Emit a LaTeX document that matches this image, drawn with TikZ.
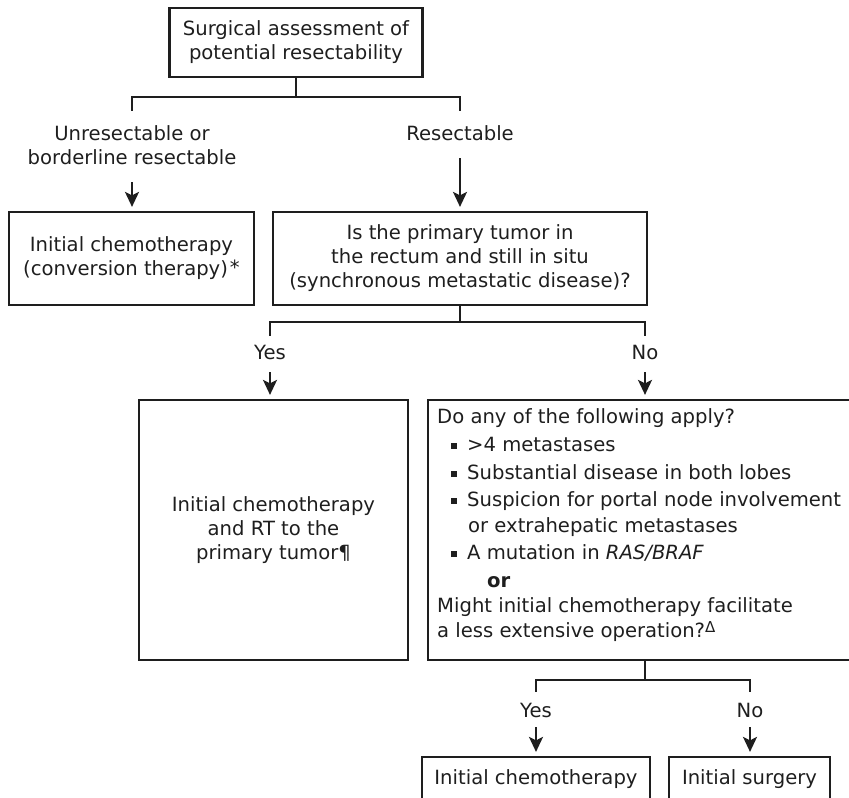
\documentclass[tikz,border=0pt]{standalone}
\usepackage{fontspec}
\setmainfont{DejaVu Sans}
\usetikzlibrary{arrows.meta}
\definecolor{ink}{HTML}{1E1E1E}
\newcommand{\sqbul}{\rule[\dimexpr0.55ex-3pt\relax]{6pt}{6pt}}
\newcommand{\supmark}[1]{\raisebox{5pt}{\fontsize{15}{15}\selectfont #1}}
\begin{document}
\begin{tikzpicture}[x=1pt,y=-1pt,
  every node/.style={font=\fontsize{19.6}{24}\selectfont, text=ink},
  box/.style={draw=ink, line width=2.2pt, inner sep=0pt, align=center},
  lbl/.style={inner sep=0pt, align=center},
  line/.style={draw=ink, line width=2.2pt},
  arr/.style={line, shorten >=4pt, -{Stealth[length=15pt,width=14pt,inset=3.5pt]}},
  ln/.style={anchor=mid west, inner sep=0pt}]
\useasboundingbox (0,0) rectangle (849,798);
\clip (0,0) rectangle (849,798);

% top
\node[box, minimum width=253pt, minimum height=69pt] (top) at (296,42.5) {Surgical assessment of\\potential resectability};
\coordinate (j1) at (296,97);
\coordinate (l1) at (132,111);
\coordinate (r1) at (460,111);
\draw[line] (top.south) -- (j1) -| (l1);
\draw[line] (j1) -| (r1);

\node[lbl] (unres) at (132,145) {Unresectable or\\borderline resectable};
\node[lbl] (res) at (460,133) {Resectable};

\node[box, minimum width=245pt, minimum height=93pt] (chemo1) at (131.5,258.5) {Initial chemotherapy\\(conversion therapy)\hspace{2pt}\raisebox{1pt}{*}};
\node[box, minimum width=374pt, minimum height=93pt] (q1) at (460,258.5) {Is the primary tumor in\\the rectum and still in situ\\(synchronous metastatic disease)?};

\coordinate (a1) at (132,182);
\coordinate (a2) at (460,158);
\draw[arr] (a1) -- (a1 |- chemo1.north);
\draw[arr] (a2) -- (a2 |- q1.north);

% second level
\coordinate (j2) at (460,322);
\coordinate (l2) at (270,336);
\coordinate (r2) at (645,336);
\draw[line] (q1.south) -- (j2) -| (l2);
\draw[line] (j2) -| (r2);
\node[lbl] (yes1) at (270,352) {Yes};
\node[lbl] (no1) at (645,352) {No};

\node[box, minimum width=269pt, minimum height=260pt] (rt) at (273.5,530) {Initial chemotherapy\\and RT to the\\primary tumor¶};
\node[box, minimum width=452pt, minimum height=260pt] (q2) at (654,530) {};

\coordinate (a3) at (270,372);
\coordinate (a4) at (645,372);
\draw[arr] (a3) -- (a3 |- rt.north);
\draw[arr] (a4) -- (a4 |- q2.north);

\node[ln] (qa) at (437,421) {Do any of the following apply?};
\node[ln] (qb) at (451,449) {\sqbul\hspace{10pt}>4 metastases};
\node[ln] (qc) at (451,477) {\sqbul\hspace{10pt}Substantial disease in both lobes};
\node[ln] (qd) at (451,504) {\sqbul\hspace{10pt}Suspicion for portal node involvement};
\node[ln] (qe) at (468,530) {or extrahepatic metastases};
\node[ln] (qf) at (451,557) {\sqbul\hspace{10pt}A mutation in \textit{RAS/BRAF}};
\node[ln] (qg) at (487,585) {\textbf{or}};
\node[ln] (qh) at (437,610) {Might initial chemotherapy facilitate};
\node[ln] (qi) at (437,635) {a less extensive operation?\supmark{Δ}};

% third level
\coordinate (j3) at (645,680);
\coordinate (l3) at (536,692);
\coordinate (r3) at (750,692);
\draw[line] (q2.south -| j3) -- (j3) -| (l3);
\draw[line] (j3) -| (r3);
\node[lbl] (yes2) at (536,710) {Yes};
\node[lbl] (no2) at (750,710) {No};

\node[box, minimum width=228pt, minimum height=44pt] (chemo2) at (536,779) {Initial chemotherapy};
\node[box, minimum width=161pt, minimum height=44pt] (surg) at (749.5,779) {Initial surgery};

\coordinate (a5) at (536,727);
\coordinate (a6) at (750,727);
\draw[arr] (a5) -- (a5 |- chemo2.north);
\draw[arr] (a6) -- (a6 |- surg.north);
\end{tikzpicture}
\end{document}
